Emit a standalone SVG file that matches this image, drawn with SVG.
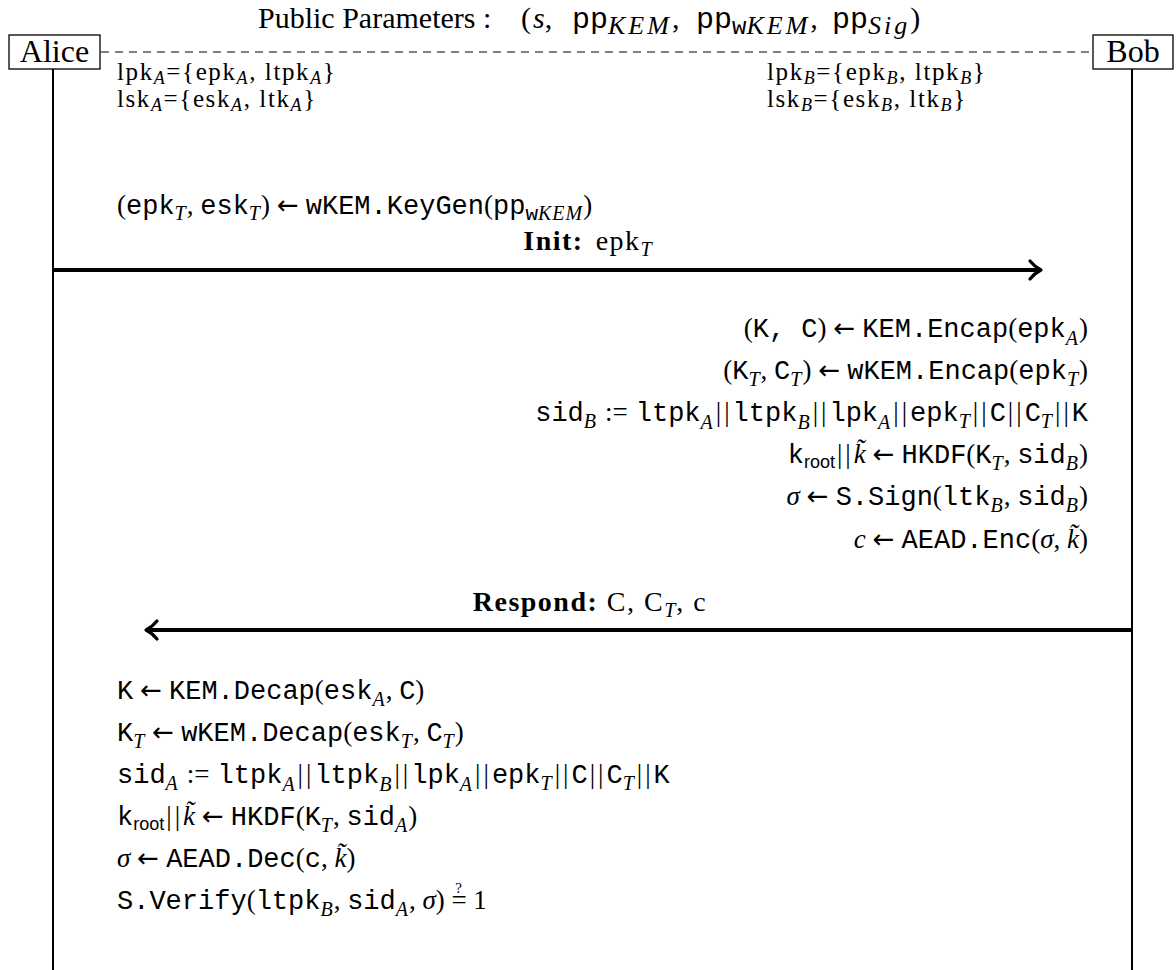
<svg xmlns="http://www.w3.org/2000/svg" width="1176" height="970" viewBox="0 0 1176 970">
<style>
text { font-family: "Liberation Serif", "DejaVu Serif", serif; fill: #000; }
.t { font-size: 30px; }
.nm { font-size: 32px; }
.k { font-size: 25px; letter-spacing: 1.6px; }
.m { font-size: 27px; }
.lb { font-size: 28px; letter-spacing: 1.5px; }
.tt { font-family: "Liberation Mono", "DejaVu Sans Mono", monospace; font-size: 27px; letter-spacing: 0; }
.tt30 { font-family: "Liberation Mono", "DejaVu Sans Mono", monospace; font-size: 30px; }
.i { font-style: italic; }
.s { font-size: 20px; letter-spacing: 1px; }
.st { font-size: 26px; letter-spacing: 3px; }
.ks { font-size: 18px; }
.rt { font-family: "Liberation Sans", "DejaVu Sans", sans-serif; font-size: 18px; }
.sw { font-family: "Liberation Mono", monospace; font-size: 21px; }
.sw2 { font-family: "Liberation Mono", monospace; font-size: 24px; }
.b { font-weight: bold; }
.ar { font-family: "DejaVu Sans", sans-serif; font-size: 26px; }
.bb { letter-spacing: 3px; }
.box { fill: #fff; stroke: #000; stroke-width: 1.3; }
.life { stroke: #000; stroke-width: 2; fill: none; }
.dash { stroke: #000; stroke-width: 1.2; stroke-dasharray: 8 6; fill: none; }
.msg { stroke: #000; stroke-width: 4; fill: none; }
.head { stroke: #000; stroke-width: 3.2; fill: none; stroke-linecap: round; stroke-linejoin: round; }
</style>

<g id="title">
  <text class="t" x="258" y="28">Public Parameters :</text>
  <text class="t" x="521" y="28">(<tspan class="i" dx="2">s</tspan>,</text>
  <text class="t" x="572" y="28"><tspan class="tt30">pp</tspan><tspan class="i st" dy="6">KEM</tspan><tspan dy="-6">,</tspan></text>
  <text class="t" x="696" y="28"><tspan class="tt30">pp</tspan><tspan class="sw2" dy="6">w</tspan><tspan class="i st">KEM</tspan><tspan dy="-6">,</tspan></text>
  <text class="t" x="832" y="28"><tspan class="tt30">pp</tspan><tspan class="i st" dy="6">Sig</tspan><tspan dy="-6">)</tspan></text>
</g>

<line class="dash" x1="101" y1="52" x2="1092" y2="52"/>

<g id="alice">
  <line class="life" x1="53" y1="69" x2="53" y2="970"/>
  <rect class="box" x="9" y="35" width="91" height="34"/>
  <text class="nm" x="54.5" y="62" text-anchor="middle">Alice</text>
</g>

<g id="bob">
  <line class="life" x1="1132" y1="69" x2="1132" y2="970"/>
  <rect class="box" x="1093" y="35" width="80" height="34"/>
  <text class="nm" x="1133" y="62" text-anchor="middle">Bob</text>
</g>

<g id="alice-keys">
  <text class="k" x="117" y="80">lpk<tspan class="i ks" dy="4">A</tspan><tspan dy="-4">={epk</tspan><tspan class="i ks" dy="4">A</tspan><tspan dy="-4">, ltpk</tspan><tspan class="i ks" dy="4">A</tspan><tspan dy="-4">}</tspan></text>
  <text class="k" x="117" y="107">lsk<tspan class="i ks" dy="4">A</tspan><tspan dy="-4">={esk</tspan><tspan class="i ks" dy="4">A</tspan><tspan dy="-4">, ltk</tspan><tspan class="i ks" dy="4">A</tspan><tspan dy="-4">}</tspan></text>
</g>

<g id="bob-keys">
  <text class="k" x="767" y="80">lpk<tspan class="i ks" dy="4">B</tspan><tspan dy="-4">={epk</tspan><tspan class="i ks" dy="4">B</tspan><tspan dy="-4">, ltpk</tspan><tspan class="i ks" dy="4">B</tspan><tspan dy="-4">}</tspan></text>
  <text class="k" x="767" y="107">lsk<tspan class="i ks" dy="4">B</tspan><tspan dy="-4">={esk</tspan><tspan class="i ks" dy="4">B</tspan><tspan dy="-4">, ltk</tspan><tspan class="i ks" dy="4">B</tspan><tspan dy="-4">}</tspan></text>
</g>

<g id="alice-keygen">
  <text class="m" x="117" y="214">(<tspan class="tt">epk</tspan><tspan class="i s" dy="6">T</tspan><tspan dy="-6">, </tspan><tspan class="tt">esk</tspan><tspan class="i s" dy="6">T</tspan><tspan dy="-6">)</tspan><tspan class="ar" dx="7">←</tspan><tspan class="tt" dx="7">wKEM.KeyGen</tspan>(<tspan class="tt">pp</tspan><tspan class="sw" dy="6">w</tspan><tspan class="i s">KEM</tspan><tspan dy="-6">)</tspan></text>
</g>

<g id="connectors">
  <line class="msg" x1="53" y1="270" x2="1040" y2="270"/>
  <path class="head" d="M1030,261 C1034,266 1037,268 1041,270 C1037,272 1034,274 1030,279"/>
  <line class="msg" x1="1132" y1="630" x2="148" y2="630"/>
  <path class="head" d="M157,621 C153,626 150,628 146,630 C150,632 153,634 157,639"/>
</g>

<g id="msg-labels">
  <text class="lb" x="588" y="250" text-anchor="middle"><tspan class="b">Init:</tspan><tspan dx="12">epk</tspan><tspan class="i s" dy="6">T</tspan></text>
  <text class="lb" x="590" y="611" text-anchor="middle"><tspan class="b">Respond:</tspan> C, C<tspan class="i s" dy="6">T</tspan><tspan dy="-6">, c</tspan></text>
</g>

<g id="bob-compute">
  <text class="m" x="1088" y="337" text-anchor="end">(<tspan class="tt">K, C</tspan>)<tspan class="ar" dx="7">←</tspan><tspan class="tt" dx="7">KEM.Encap</tspan>(<tspan class="tt">epk</tspan><tspan class="i s" dy="8">A</tspan><tspan dy="-8">)</tspan></text>
  <text class="m" x="1088" y="379" text-anchor="end">(<tspan class="tt">K</tspan><tspan class="i s" dy="7">T</tspan><tspan dy="-7">, </tspan><tspan class="tt">C</tspan><tspan class="i s" dy="7">T</tspan><tspan dy="-7">)</tspan><tspan class="ar" dx="7">←</tspan><tspan class="tt" dx="7">wKEM.Encap</tspan>(<tspan class="tt">epk</tspan><tspan class="i s" dy="7">T</tspan><tspan dy="-7">)</tspan></text>
  <text class="m" x="1088" y="421" text-anchor="end"><tspan class="tt">sid</tspan><tspan class="i s" dy="7">B</tspan><tspan dy="-7" dx="8">:=</tspan><tspan class="tt" dx="8">ltpk</tspan><tspan class="i s" dy="8">A</tspan><tspan dy="-8" dx="2" class="bb">||</tspan><tspan class="tt">ltpk</tspan><tspan class="i s" dy="8">B</tspan><tspan dy="-8" dx="2" class="bb">||</tspan><tspan class="tt">lpk</tspan><tspan class="i s" dy="8">A</tspan><tspan dy="-8" dx="2" class="bb">||</tspan><tspan class="tt">epk</tspan><tspan class="i s" dy="7">T</tspan><tspan dy="-7" dx="2" class="bb">||</tspan><tspan class="tt">C</tspan><tspan class="bb" dx="2">||</tspan><tspan class="tt">C</tspan><tspan class="i s" dy="7">T</tspan><tspan dy="-7" dx="2" class="bb">||</tspan><tspan class="tt">K</tspan></text>
  <text class="m" x="1088" y="463" text-anchor="end"><tspan class="tt">k</tspan><tspan class="rt" dy="5">root</tspan><tspan dy="-5" dx="2" class="bb">||</tspan><tspan class="i">k̃</tspan><tspan class="ar" dx="7">←</tspan><tspan class="tt" dx="7">HKDF</tspan>(<tspan class="tt">K</tspan><tspan class="i s" dy="7">T</tspan><tspan dy="-7">, </tspan><tspan class="tt">sid</tspan><tspan class="i s" dy="7">B</tspan><tspan dy="-7">)</tspan></text>
  <text class="m" x="1088" y="505" text-anchor="end"><tspan class="i">σ</tspan><tspan class="ar" dx="7">←</tspan><tspan class="tt" dx="7">S.Sign</tspan>(<tspan class="tt">ltk</tspan><tspan class="i s" dy="7">B</tspan><tspan dy="-7">, </tspan><tspan class="tt">sid</tspan><tspan class="i s" dy="7">B</tspan><tspan dy="-7">)</tspan></text>
  <text class="m" x="1088" y="548" text-anchor="end"><tspan class="i">c</tspan><tspan class="ar" dx="7">←</tspan><tspan class="tt" dx="7">AEAD.Enc</tspan>(<tspan class="i">σ</tspan>, <tspan class="i">k̃</tspan>)</text>
</g>

<g id="alice-compute">
  <text class="m" x="117" y="699"><tspan class="tt">K</tspan><tspan class="ar" dx="7">←</tspan><tspan class="tt" dx="7">KEM.Decap</tspan>(<tspan class="tt">esk</tspan><tspan class="i s" dy="7">A</tspan><tspan dy="-7">, </tspan><tspan class="tt">C</tspan>)</text>
  <text class="m" x="117" y="741"><tspan class="tt">K</tspan><tspan class="i s" dy="7">T</tspan><tspan class="ar" dy="-7" dx="7">←</tspan><tspan class="tt" dx="7">wKEM.Decap</tspan>(<tspan class="tt">esk</tspan><tspan class="i s" dy="7">T</tspan><tspan dy="-7">, </tspan><tspan class="tt">C</tspan><tspan class="i s" dy="7">T</tspan><tspan dy="-7">)</tspan></text>
  <text class="m" x="117" y="783"><tspan class="tt">sid</tspan><tspan class="i s" dy="7">A</tspan><tspan dy="-7" dx="8">:=</tspan><tspan class="tt" dx="8">ltpk</tspan><tspan class="i s" dy="8">A</tspan><tspan dy="-8" dx="2" class="bb">||</tspan><tspan class="tt">ltpk</tspan><tspan class="i s" dy="8">B</tspan><tspan dy="-8" dx="2" class="bb">||</tspan><tspan class="tt">lpk</tspan><tspan class="i s" dy="8">A</tspan><tspan dy="-8" dx="2" class="bb">||</tspan><tspan class="tt">epk</tspan><tspan class="i s" dy="7">T</tspan><tspan dy="-7" dx="2" class="bb">||</tspan><tspan class="tt">C</tspan><tspan class="bb" dx="2">||</tspan><tspan class="tt">C</tspan><tspan class="i s" dy="7">T</tspan><tspan dy="-7" dx="2" class="bb">||</tspan><tspan class="tt">K</tspan></text>
  <text class="m" x="117" y="825"><tspan class="tt">k</tspan><tspan class="rt" dy="5">root</tspan><tspan dy="-5" dx="2" class="bb">||</tspan><tspan class="i">k̃</tspan><tspan class="ar" dx="7">←</tspan><tspan class="tt" dx="7">HKDF</tspan>(<tspan class="tt">K</tspan><tspan class="i s" dy="7">T</tspan><tspan dy="-7">, </tspan><tspan class="tt">sid</tspan><tspan class="i s" dy="7">A</tspan><tspan dy="-7">)</tspan></text>
  <text class="m" x="117" y="867"><tspan class="i">σ</tspan><tspan class="ar" dx="7">←</tspan><tspan class="tt" dx="7">AEAD.Dec</tspan>(<tspan class="tt">c</tspan>, <tspan class="i">k̃</tspan>)</text>
  <text class="m" x="117" y="909"><tspan class="tt">S.Verify</tspan>(<tspan class="tt">ltpk</tspan><tspan class="i s" dy="7">B</tspan><tspan dy="-7">, </tspan><tspan class="tt">sid</tspan><tspan class="i s" dy="7">A</tspan><tspan dy="-7">, </tspan><tspan class="i">σ</tspan>) =<tspan font-size="15" dx="-11.5" dy="-16">?</tspan><tspan dx="4.5" dy="16"> 1</tspan></text>
</g>
</svg>
